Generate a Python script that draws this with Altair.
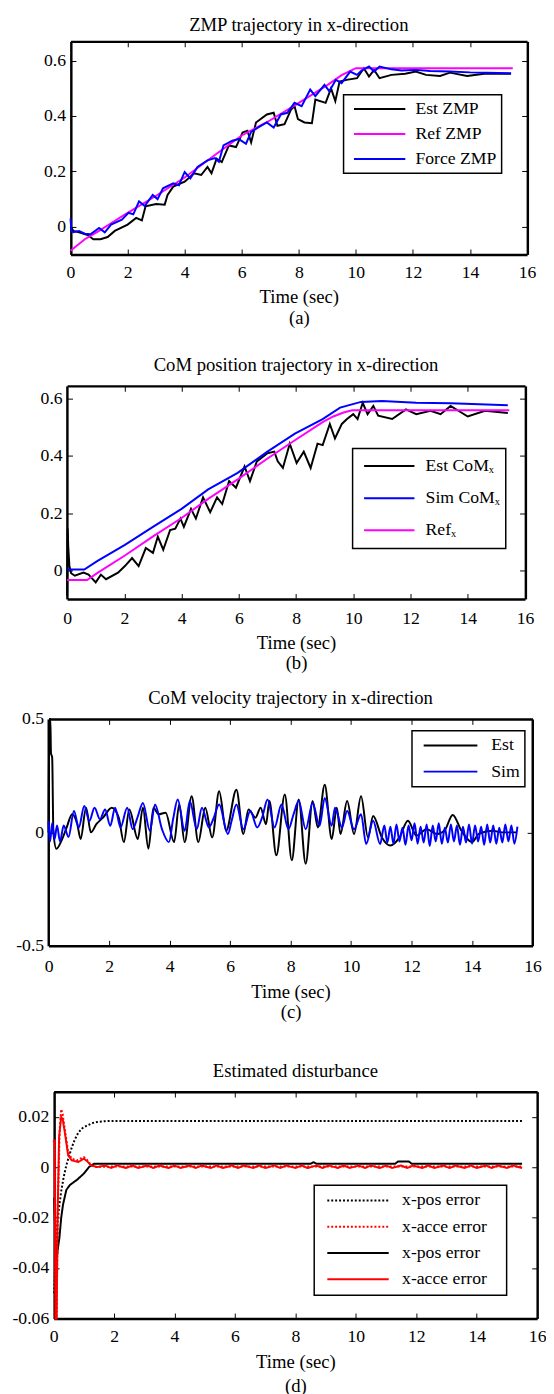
import altair as alt
import pandas as pd

FONT = "Liberation Serif"
BLACK, MAGENTA, BLUE, RED = "#000000", "#ff00ff", "#0000ff", "#ff0000"
XTICKS = [0, 2, 4, 6, 8, 10, 12, 14, 16]
NB = "\u00a0"
END = "\u200b"

# ---------------- (a) ZMP trajectory ----------------
A_EST_T = [0, 0.1, 0.3, 0.6, 0.8, 1.05, 1.3, 1.55, 2.0, 2.3, 2.5, 2.63, 3.0, 3.3, 3.4, 3.6, 4.0, 4.33,
           4.58, 4.8, 4.94, 5.12, 5.3, 5.55, 5.8, 6.03, 6.2, 6.33, 6.5, 6.88, 7.12, 7.25, 7.5, 7.73, 7.85,
           7.97, 8.2, 8.46, 8.58, 8.94, 9.13, 9.28, 9.43, 9.67, 10.04, 10.28, 10.46, 10.64, 10.83, 11.25,
           11.73, 12.1, 12.46, 12.95, 13.3, 13.9, 14.5, 15.44]
A_EST_V = [0.0, -0.015, -0.02, -0.03, -0.045, -0.045, -0.037, -0.015, 0.008, 0.032, 0.023, 0.074, 0.082,
           0.08, 0.115, 0.145, 0.163, 0.193, 0.187, 0.216, 0.193, 0.246, 0.234, 0.294, 0.288, 0.341, 0.347,
           0.305, 0.377, 0.406, 0.412, 0.365, 0.371, 0.424, 0.436, 0.389, 0.377, 0.374, 0.46, 0.448, 0.5,
           0.454, 0.525, 0.531, 0.537, 0.573, 0.543, 0.567, 0.537, 0.549, 0.553, 0.561, 0.549, 0.545, 0.557,
           0.545, 0.553, 0.553]
A_REF_T = [0, 0.5, 1, 1.5, 2, 3, 4, 5, 6, 7, 8, 9, 9.5, 10, 15.5]
A_REF_V = [-0.087, -0.045, -0.015, 0.018, 0.05, 0.112, 0.178, 0.255, 0.33, 0.385, 0.448, 0.512, 0.548,
           0.573, 0.573]
A_FRC_T = [0, 0.03, 0.1, 0.3, 0.5, 0.7, 1.0, 1.2, 1.42, 1.8, 2.03, 2.2, 2.4, 2.6, 2.88, 3.05, 3.24, 3.6,
           3.8, 4.0, 4.2, 4.45, 4.8, 5.06, 5.2, 5.36, 5.67, 5.9, 6.15, 6.33, 6.58, 6.88, 7.12, 7.37, 7.6,
           7.85, 8.1, 8.4, 8.58, 8.9, 9.07, 9.3, 9.5, 9.8, 10.04, 10.2, 10.46, 10.64, 10.83, 11.25, 11.6,
           12.1, 12.6, 13.3, 14.0, 14.6, 15.44]
A_FRC_V = [0.03, -0.015, -0.02, -0.015, -0.025, -0.027, -0.004, -0.02, 0.008, 0.026, 0.05, 0.045, 0.092,
           0.075, 0.115, 0.1, 0.139, 0.157, 0.15, 0.198, 0.175, 0.216, 0.24, 0.248, 0.235, 0.294, 0.311,
           0.317, 0.3, 0.343, 0.359, 0.377, 0.359, 0.406, 0.412, 0.448, 0.436, 0.496, 0.472, 0.513, 0.49,
           0.531, 0.519, 0.561, 0.549, 0.565, 0.579, 0.561, 0.579, 0.569, 0.565, 0.567, 0.563, 0.561, 0.558,
           0.557, 0.555]

# ---------------- (b) CoM position ----------------
B_EST_T = [0, 0.02, 0.04, 0.08, 0.14, 0.27, 0.57, 0.75, 1.0, 1.18, 1.36, 1.78, 2.02, 2.27, 2.5, 2.75, 3.0,
           3.17, 3.36, 3.6, 3.78, 3.96, 4.08, 4.33, 4.5, 4.75, 5.0, 5.24, 5.42, 5.66, 5.9, 6.2, 6.39, 6.63,
           6.99, 7.24, 7.36, 7.54, 7.78, 8.02, 8.27, 8.51, 8.75, 8.93, 9.18, 9.36, 9.6, 9.78, 10.0, 10.15,
           10.33, 10.5, 10.7, 10.87, 11.36, 11.84, 12.2, 12.7, 13.05, 13.4, 14.0, 14.6, 15.4]
B_EST_V = [-0.088, 0.146, 0.083, 0.015, -0.01, -0.019, -0.008, -0.015, -0.042, -0.015, -0.031, -0.008,
           0.015, 0.043, 0.015, 0.078, 0.061, 0.118, 0.072, 0.141, 0.146, 0.181, 0.152, 0.215, 0.181, 0.255,
           0.203, 0.255, 0.232, 0.312, 0.289, 0.363, 0.312, 0.381, 0.409, 0.415, 0.381, 0.358, 0.443, 0.375,
           0.415, 0.358, 0.443, 0.438, 0.512, 0.461, 0.512, 0.529, 0.546, 0.529, 0.586, 0.546, 0.575, 0.541,
           0.529, 0.563, 0.546, 0.558, 0.546, 0.575, 0.538, 0.558, 0.55]
B_SIM_T = [0, 0.6, 1.05, 2.02, 3.0, 4.0, 4.93, 5.96, 7.0, 7.96, 8.93, 9.54, 10.27, 11.0, 12.2, 13.4, 15.4]
B_SIM_V = [0.003, 0.003, 0.032, 0.089, 0.152, 0.215, 0.283, 0.341, 0.415, 0.478, 0.529, 0.569, 0.589,
           0.592, 0.586, 0.584, 0.577]
B_REF_T = [0, 0.7, 1.05, 2.02, 2.99, 4.0, 4.93, 5.96, 6.99, 7.96, 8.93, 9.3, 9.66, 9.96, 15.45]
B_REF_V = [-0.034, -0.034, -0.01, 0.052, 0.118, 0.183, 0.25, 0.318, 0.39, 0.455, 0.518, 0.538, 0.552,
           0.56, 0.56]

# ---------------- (c) CoM velocity ----------------
C_EST_T = [0, 0.02, 0.06, 0.08, 0.12, 0.16, 0.26, 0.43, 0.6, 0.78, 0.95, 1.06, 1.24, 1.4, 1.58, 1.8, 2.09,
           2.32, 2.49, 2.67, 2.95, 3.12, 3.3, 3.47, 3.64, 3.87, 4.15, 4.32, 4.5, 4.73, 4.95, 5.18, 5.41,
           5.64, 5.87, 6.21, 6.44, 6.61, 6.84, 7.01, 7.19, 7.3, 7.53, 7.81, 8.04, 8.27, 8.5, 8.73, 8.9,
           9.13, 9.36, 9.53, 9.65, 9.87, 10.1, 10.33, 10.56, 10.73, 11.02, 11.3, 11.6, 11.88, 12.16, 12.5,
           12.85, 13.1, 13.36, 13.65, 14.0, 14.22, 14.68, 15.0, 15.48]
C_EST_V = [0.0, 0.5, 0.5, 0.35, 0.33, 0.0, -0.072, -0.036, 0.022, 0.08, 0.036, -0.029, 0.109, 0.0, 0.036,
           0.065, 0.109, 0.065, -0.043, 0.101, -0.029, 0.109, -0.072, 0.109, 0.08, 0.087, -0.043, 0.123,
           -0.043, 0.159, -0.043, 0.109, -0.022, 0.181, 0.007, 0.188, -0.007, 0.101, 0.065, 0.109, 0.036,
           0.138, -0.101, 0.167, -0.123, 0.145, -0.138, 0.138, 0.022, 0.21, -0.029, 0.109, -0.007, 0.138,
           -0.007, 0.159, -0.022, 0.072, -0.022, -0.058, -0.022, 0.051, -0.014, 0.014, -0.007, 0.01, 0.077,
           0.007, -0.043, -0.007, 0.007, 0.0, 0.0]
C_SIM_T = [0, 0.05, 0.12, 0.2, 0.28, 0.38, 0.5, 0.66, 0.84, 1.0, 1.18, 1.35, 1.52, 1.7, 1.87, 2.04, 2.2,
           2.38, 2.6, 2.78, 2.95, 3.12, 3.35, 3.52, 3.75, 3.98, 4.12, 4.27, 4.5, 4.67, 4.9, 5.07, 5.3,
           5.45, 5.64, 5.93, 6.05, 6.21, 6.44, 6.67, 6.9, 7.07, 7.24, 7.47, 7.7, 7.93, 8.1, 8.27, 8.5,
           8.73, 8.96, 9.13, 9.36, 9.47, 9.7, 9.87, 10.1, 10.33, 10.5, 10.73, 10.96,
           11.1, 11.2, 11.3, 11.4, 11.5, 11.6, 11.7, 11.8, 11.9, 12.0, 12.1, 12.2, 12.3, 12.4, 12.5, 12.6,
           12.7, 12.8, 12.9, 13.0, 13.1, 13.2, 13.3, 13.4, 13.5, 13.6, 13.7, 13.8, 13.9, 14.0, 14.1, 14.2,
           14.3, 14.4, 14.5, 14.6, 14.7, 14.8, 14.9, 15.0, 15.1, 15.2, 15.3, 15.4, 15.5]
C_SIM_V = [0.05, -0.04, 0.04, -0.03, 0.03, -0.04, 0.03, -0.02, 0.094, 0.022, 0.116, 0.05, 0.109, 0.058,
           0.101, 0.029, 0.109, 0.022, 0.109, 0.014, 0.07, 0.13, 0.007, 0.123, 0.014, -0.043, 0.06, 0.145,
           0.007, 0.138, 0.014, 0.109, 0.022, 0.06, 0.123, -0.007, 0.05, 0.123, 0.014, 0.094, 0.022, 0.07,
           0.145, 0.022, 0.123, 0.014, 0.08, 0.138, 0.014, 0.13, 0.029, 0.152, 0.029, 0.109, 0.022, 0.094,
           0.014, 0.08, -0.051, 0.051, -0.051,
           0.03, -0.045, 0.025, -0.05, 0.035, -0.04, 0.02, -0.055, 0.03, -0.035, 0.04, -0.05, 0.025,
           -0.045, 0.035, -0.06, 0.03, -0.04, 0.04, -0.05, 0.02, -0.045, 0.035, -0.04, 0.03, -0.055, 0.025,
           -0.045, 0.035, -0.05, 0.03, -0.04, 0.025, -0.055, 0.035, -0.045, 0.03, -0.05, 0.02, -0.045,
           0.035, -0.04, 0.03, -0.05, 0.025]

# ---------------- (d) Estimated disturbance ----------------
D_PDOT_T = [0.02, 0.06, 0.1, 0.14, 0.2, 0.25, 0.33, 0.42, 0.5, 0.6, 0.7, 0.82, 0.95, 1.11, 1.3, 1.45, 1.7,
            2.03, 3.0, 15.5]
D_PDOT_V = [-0.05, -0.035, -0.025, -0.02, -0.014, -0.0096, -0.004, 0.0008, 0.004, 0.0079, 0.011, 0.0138,
            0.0155, 0.0166, 0.0176, 0.018, 0.0183, 0.0184, 0.0184, 0.0184]
D_ADOT_T = [0, 0.04, 0.07, 0.1, 0.14, 0.2, 0.25, 0.3, 0.37, 0.48, 0.6, 0.77, 0.9, 1.0, 1.1, 1.17, 1.34,
            2.0, 15.5]
D_ADOT_V = [0.01, 0.011, -0.06, -0.06, -0.015, 0.015, 0.023, 0.021, 0.015, 0.006, 0.0034, 0.0027, 0.0035,
            0.004, 0.003, 0.0018, 0.0001, 0.0003, 0.0003]
D_POS_T = [0.02, 0.06, 0.1, 0.13, 0.19, 0.25, 0.31, 0.42, 0.54, 0.77, 1.0, 1.17, 1.34, 8.5, 8.6, 8.7,
           11.3, 11.4, 11.75, 11.85, 15.5]
D_POS_V = [-0.012, -0.03, -0.037, -0.033, -0.028, -0.02, -0.0148, -0.009, -0.007, -0.005, -0.0025,
           0.0001, 0.0014, 0.0014, 0.002, 0.0014, 0.0014, 0.0023, 0.0023, 0.0014, 0.0014]
D_ACC_T = [0, 0.03, 0.06, 0.1, 0.13, 0.18, 0.25, 0.3, 0.37, 0.48, 0.6, 0.82, 1.0, 1.1, 1.23, 1.45,
           1.7, 1.9, 2.1, 2.4, 2.6, 2.8, 3.1, 3.3, 3.5, 3.8, 4.0, 4.2, 4.5, 4.7, 4.9, 5.2, 5.4, 5.6, 5.9,
           6.1, 6.3, 6.6, 6.8, 7.0, 7.3, 7.5, 7.7, 8.0, 8.2, 8.4, 8.7, 8.9, 9.1, 9.4, 9.6, 9.8, 10.1, 10.3,
           10.5, 10.8, 11.0, 11.2, 11.5, 11.7, 11.9, 12.2, 12.4, 12.6, 12.9, 13.1, 13.3, 13.6, 13.8, 14.0,
           14.3, 14.5, 14.7, 15.0, 15.2, 15.5]
D_ACC_V = [0.01, 0.011, -0.06, -0.06, -0.02, 0.012, 0.02, 0.019, 0.0138, 0.0047, 0.0027, 0.0021, 0.0034,
           0.0025, 0.0008, 0.0001,
           0.0007, -0.0003, 0.0007, -0.0003, 0.0007, -0.0003, 0.0007, -0.0003, 0.0007, -0.0003, 0.0007,
           -0.0003, 0.0007, -0.0003, 0.0007, -0.0003, 0.0007, -0.0003, 0.0007, -0.0003, 0.0007, -0.0003,
           0.0007, -0.0003, 0.0007, -0.0003, 0.0007, -0.0003, 0.0007, -0.0003, 0.0007, -0.0003, 0.0007,
           -0.0003, 0.0007, -0.0003, 0.0007, -0.0003, 0.0007, -0.0003, 0.0007, -0.0003, 0.0007, -0.0003,
           0.0007, -0.0003, 0.0007, -0.0003, 0.0007, -0.0003, 0.0007, -0.0003, 0.0007, -0.0003, 0.0007,
           -0.0003, 0.0007, -0.0003, 0.0007, -0.0003]


def table(series):
    rows = []
    for key, ts, vs in series:
        for t, v in zip(ts, vs):
            rows.append({"t": t, "v": v, "s": key})
    return pd.DataFrame(rows)


def label_expr(keys, names):
    expr = "'" + names[-1] + "'"
    for k, n in reversed(list(zip(keys[:-1], names[:-1]))):
        expr = "datum.label == '" + k + "' ? '" + n + "' : (" + expr + ")"
    return expr


def panel(df, keys, names, colors, ydom, yvals, yhide, yfmt, L, R, H, title, sub, leg, lg,
          dashes=None, xlab_pad=7, xtitle_pad=5, xline=22, toff=9, interp="linear"):
    tick = 5.5
    x_frame = "datum.value <= 0 || datum.value >= 16"
    y_frame = "datum.value <= %r || datum.value >= %r" % (ydom[0] + 1e-6, ydom[1] - 1e-6)
    hide = " || ".join("abs(datum.value - (%r)) < 1e-6" % h for h in yhide) or "false"
    yexpr = ("(" + hide + ") ? '' : (datum.value == 0 ? '0' : (datum.value < 0 ? '-' + format(-datum.value, '"
             + yfmt + "') : format(datum.value, '" + yfmt + "')))")
    legend = alt.Legend(title=None, orient="none", legendX=leg[0], legendY=leg[1],
                        symbolType="stroke", symbolSize=lg["size"], symbolStrokeWidth=2,
                        symbolOffset=lg["so"], labelOffset=lg["lo"],
                        clipHeight=lg["ch"], rowPadding=lg["rp"], padding=lg["pad"],
                        labelFont=FONT, labelFontSize=18, labelColor=BLACK,
                        labelExpr=label_expr(keys, names), labelLimit=0,
                        strokeColor=BLACK, fillColor="white")
    enc = dict(
        x=alt.X("t:Q", scale=alt.Scale(domain=[0, 16], range=[L, R], nice=False, zero=False),
                axis=alt.Axis(values=XTICKS, format="d", title=["Time (sec)", sub], grid=True,
                              gridDash={"condition": {"test": x_frame, "value": []},
                                        "value": [tick, H - 2 * tick, tick, 4000]},
                              gridWidth={"condition": {"test": x_frame, "value": 2.5}, "value": 1},
                              labelPadding=xlab_pad, titlePadding=xtitle_pad, titleLineHeight=xline)),
        y=alt.Y("v:Q", scale=alt.Scale(domain=ydom, nice=False, zero=False),
                axis=alt.Axis(values=yvals, labelExpr=yexpr, title=None, grid=True, offset=-L,
                              gridDash={"condition": {"test": y_frame, "value": []},
                                        "value": [tick, (R - L) - 2 * tick, tick, 4000]},
                              gridWidth={"condition": {"test": y_frame, "value": 2.5}, "value": 1},
                              labelPadding=5)),
        color=alt.Color("s:N", scale=alt.Scale(domain=keys, range=colors), legend=legend),
    )
    if dashes:
        enc["strokeDash"] = alt.StrokeDash("s:N", scale=alt.Scale(domain=keys, range=dashes), legend=legend)
    return (alt.Chart(df).mark_line(strokeWidth=2, interpolate=interp)
            .encode(**enc)
            .properties(width=R, height=H,
                        title=alt.TitleParams(title, frame="group", anchor="middle", dx=L / 2, offset=toff)))


pa = panel(table([("a", A_EST_T, A_EST_V), ("b", A_REF_T, A_REF_V), ("c", A_FRC_T, A_FRC_V)]),
           ["a", "b", "c"], ["Est ZMP", "Ref ZMP", "Force ZMP"],
           [BLACK, MAGENTA, BLUE],
           [-0.1, 0.67], [-0.1, 0, 0.2, 0.4, 0.6, 0.67], [-0.1, 0.67], ".1f",
           63.7, 528.7, 217, "ZMP trajectory in x-direction", "(a)", (341.8, 54.3),
           dict(size=2735, so=4.25, lo=8.9, ch=19, rp=6.5, pad=5),
           xlab_pad=9.3, xtitle_pad=6.7, xline=21, toff=-2.0)

pb = panel(table([("a", B_EST_T, B_EST_V), ("b", B_SIM_T, B_SIM_V), ("c", B_REF_T, B_REF_V)]),
           ["a", "b", "c"],
           ["Est CoM\u2093", "Sim CoM\u2093", "Ref\u2093"],
           [BLACK, BLUE, MAGENTA],
           [-0.1, 0.645], [-0.1, 0, 0.2, 0.4, 0.6, 0.645], [-0.1, 0.645], ".1f",
           60.2, 526.6, 217, "CoM position trajectory in x-direction", "(b)", (351.0, 63.7),
           dict(size=2632, so=5.35, lo=10, ch=26, rp=6.7, pad=5),
           xlab_pad=10.9, xtitle_pad=6.4, xline=21, toff=1.9)

pc = panel(table([("a", C_EST_T, C_EST_V), ("b", C_SIM_T, C_SIM_V)]),
           ["a", "b"], ["Est", "Sim"], [BLACK, BLUE],
           [-0.5, 0.5], [-0.5, 0, 0.5], [], ".1f",
           41.3, 534.3, 231, "CoM velocity trajectory in x-direction", "(c)", (411.5, 12.0),
           dict(size=2992, so=5.75, lo=13, ch=20, rp=6.6, pad=5),
           xlab_pad=12.4, xtitle_pad=7, xline=21, toff=2.1, interp="monotone")

pd_ = panel(table([("a", D_PDOT_T, D_PDOT_V), ("b", D_ADOT_T, D_ADOT_V),
                   ("c", D_POS_T, D_POS_V), ("d", D_ACC_T, D_ACC_V)]),
            ["a", "b", "c", "d"],
            ["x-pos error" + NB * 3 + END, "x-acce error" + NB * 3 + END,
             "x-pos error" + NB * 3 + END, "x-acce error" + NB * 3 + END],
            [BLACK, RED, BLACK, RED],
            [-0.06, 0.03], [-0.06, -0.04, -0.02, 0, 0.02, 0.03], [0.03], ".2f",
            46.5, 539.0, 231, "Estimated disturbance", "(d)", (311.9, 95.3),
            dict(size=3906, so=6.5, lo=12.4, ch=20, rp=6.7, pad=5.6),
            dashes=[[2, 2], [2, 2], [1, 0], [1, 0]],
            xlab_pad=9.7, xtitle_pad=7.5, xline=24, toff=2)

ind = dict(x="independent", y="independent", color="independent", strokeDash="independent")
inner3 = (alt.vconcat(pc, pd_, spacing=40.6).resolve_scale(**ind)
          .resolve_legend(color="independent", strokeDash="independent"))
inner2 = (alt.vconcat(pb, inner3, spacing=15.3).resolve_scale(**ind)
          .resolve_legend(color="independent", strokeDash="independent"))
chart = (alt.vconcat(pa, inner2, spacing=29.9)
         .resolve_scale(**ind)
         .resolve_legend(color="independent", strokeDash="independent")
         .properties(padding={"left": 0, "top": -5.0, "right": 0, "bottom": 0}, background="white")
         .configure_view(stroke=None)
         .configure_title(font=FONT, fontSize=19, fontWeight="normal", color=BLACK)
         .configure_axis(labelFont=FONT, labelFontSize=18, labelColor=BLACK, titleFont=FONT,
                         titleFontSize=19, titleFontWeight="normal", titleColor=BLACK,
                         domain=False, ticks=False, tickSize=0, labelFlush=False, labelOverlap=False,
                         gridColor=BLACK, gridOpacity=1)
         .configure_legend(strokeWidth=1.5))

chart.save("out.html", embed_options={"renderer": "svg", "actions": False})
